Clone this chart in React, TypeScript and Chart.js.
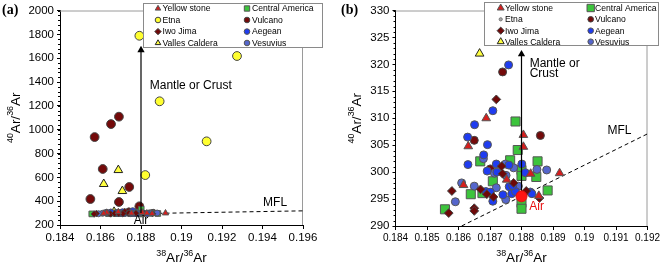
import React, { useEffect, useRef } from 'react';
import { Chart, registerables } from 'chart.js';
import { drawPoint } from 'chart.js/helpers';

Chart.register(...registerables);

const FONT = "'Liberation Sans', Arial, Helvetica, sans-serif";
const SERIF = "'Liberation Serif', 'Times New Roman', serif";

// ---------- data (38Ar/36Ar = x, 40Ar/36Ar = y) ----------
const yellowstoneX = [0.18688, 0.18631, 0.18806, 0.18806, 0.18616, 0.18753, 0.18829, 0.18921, 0.18855];
const yellowstoneY = [310.0, 304.8, 306.9, 304.7, 297.6, 298.6, 299.7, 299.8, 295.6];

const centralAmericaX = [0.18781, 0.18788, 0.18669, 0.18764, 0.18851, 0.188, 0.188, 0.18847, 0.18883, 0.18557, 0.18639, 0.18676, 0.18709, 0.188, 0.188, 0.18801];
const centralAmericaY = [309.4, 304.1, 302.0, 302.2, 302.0, 300.4, 299.3, 299.1, 296.6, 293.1, 295.9, 296.1, 298.3, 294.3, 293.2, 332];

const etnaX = [0.18792, 0.19274, 0.18892, 0.19124, 0.18821];
const etnaY = [1788, 1618, 1238, 902, 619];

const vulcanoX = [0.18691, 0.18652, 0.18571, 0.18611, 0.18742, 0.1855, 0.18691, 0.18792, 0.1874, 0.1865, 0.1886, 0.18701];
const vulcanoY = [1109, 1047, 938, 670, 519, 418, 393, 357, 318.6, 305.9, 306.8, 300.6];

const iwoJimaX = [0.1872, 0.18737, 0.1874, 0.18579, 0.18569, 0.1865, 0.1865, 0.1867, 0.1869, 0.18711, 0.18775, 0.18815, 0.18857];
const iwoJimaY = [313.5, 301.1, 299.7, 296.5, 292.4, 293.3, 292.8, 296.8, 295.9, 295.4, 298.0, 296.5, 295.2];

const vallesCalderaX = [0.18667, 0.18688, 0.18616, 0.18708];
const vallesCalderaY = [322.0, 661, 544, 485];

const aegeanX = [0.18759, 0.18709, 0.18651, 0.18629, 0.18692, 0.1868, 0.1863, 0.1872, 0.18691, 0.18801, 0.18812, 0.18722, 0.1876, 0.18687, 0.18701, 0.18709, 0.18741, 0.18761, 0.18769, 0.18781, 0.18828, 0.18833, 0.18772];
const aegeanY = [319.9, 311.4, 308.8, 306.5, 305.1, 303.2, 301.4, 301.5, 300.2, 301.5, 299.9, 300.0, 301.3, 296.4, 296.3, 294.6, 295.8, 297.3, 296.0, 296.4, 296.3, 296.0, 297.5];

const vesuviusX = [0.18679, 0.18749, 0.18775, 0.1888, 0.18849, 0.18751, 0.18714, 0.1861, 0.1859, 0.1865, 0.1872, 0.1875, 0.1879];
const vesuviusY = [302.5, 301.5, 300.8, 300.4, 300.5, 299.4, 299.8, 298.0, 294.5, 297.4, 297.1, 294.9, 297.4];

const airX = [0.188];
const airY = [295.5];

// mass fractionation line and "mantle or crust" arrows
const mflX = [0.1861, 0.196];
const mflY = [290, 318.7];
const arrowX = [0.188, 0.188];
const arrowAY = [300, 1668];
const arrowBY = [295.5, 321.9];

// axes
const xTicksA = [0.184, 0.196, 0.002];
const yTicksA = [200, 2000, 200];
const xTicksB = [0.184, 0.192, 0.001];
const yTicksB = [290, 330, 5];

type Series = {
  label: string; xs: number[]; ys: number[]; style: string; fill: string; border: string;
  rA: number; rAbig: number; rB: number; legA: number; legB: number; legFillB?: string;
};

const series: Series[] = [
  { label: 'Yellow stone', xs: yellowstoneX, ys: yellowstoneY, style: 'triangle', fill: '#d41e1e', border: '#555', rA: 3.6, rAbig: 5, rB: 5, legA: 3.2, legB: 4 },
  { label: 'Etna', xs: etnaX, ys: etnaY, style: 'circle', fill: '#ffff30', border: '#444', rA: 3, rAbig: 4.4, rB: 4.2, legA: 2.8, legB: 1.6, legFillB: '#aaa' },
  { label: 'Iwo Jima', xs: iwoJimaX, ys: iwoJimaY, style: 'rectRot', fill: '#6e0808', border: '#444', rA: 3.2, rAbig: 4.5, rB: 4.4, legA: 3.2, legB: 3.6 },
  { label: 'Valles Caldera', xs: vallesCalderaX, ys: vallesCalderaY, style: 'triangle', fill: '#ffff40', border: '#222', rA: 3.6, rAbig: 5, rB: 5, legA: 3.2, legB: 4 },
  { label: 'Central America', xs: centralAmericaX, ys: centralAmericaY, style: 'rect', fill: '#3cc43c', border: '#555', rA: 4, rAbig: 5, rB: 6.4, legA: 3.8, legB: 5.2 },
  { label: 'Vulcano', xs: vulcanoX, ys: vulcanoY, style: 'circle', fill: '#740a0a', border: '#444', rA: 3, rAbig: 4.4, rB: 4, legA: 2.8, legB: 2.8 },
  { label: 'Aegean', xs: aegeanX, ys: aegeanY, style: 'circle', fill: '#1f3cf0', border: '#555', rA: 3, rAbig: 4.4, rB: 4, legA: 2.8, legB: 2.8 },
  { label: 'Vesuvius', xs: vesuviusX, ys: vesuviusY, style: 'circle', fill: '#5566cc', border: '#555', rA: 3, rAbig: 4.4, rB: 4, legA: 2.8, legB: 2.8 },
];

const pts = (xs: number[], ys: number[]) => xs.map((x, i) => ({ x, y: ys[i] }));

function drawSup(ctx: CanvasRenderingContext2D, x: number, y: number, parts: [string, boolean][], size: number, rotate: boolean) {
  ctx.save();
  ctx.translate(x, y);
  if (rotate) ctx.rotate(-Math.PI / 2);
  const main = `${size}px ${FONT}`;
  const sup = `${size * 0.66}px ${FONT}`;
  let total = 0;
  for (const [t, s] of parts) { ctx.font = s ? sup : main; total += ctx.measureText(t).width; }
  let cx = -total / 2;
  ctx.fillStyle = '#000';
  ctx.textBaseline = 'alphabetic';
  ctx.textAlign = 'left';
  for (const [t, s] of parts) {
    ctx.font = s ? sup : main;
    ctx.fillText(t, cx, s ? -size * 0.45 : 0);
    cx += ctx.measureText(t).width;
  }
  ctx.restore();
}

type PanelCfg = {
  id: 'a' | 'b';
  width: number;
  xr: number[]; yr: number[];
  yWidth: number; xHeight: number; padRight: number; padTop: number;
  xFont: number; yFont: number; minorY: number;
  legend: { x0: number; y0: number; x1: number; y1: number; mL: number; tL: number; mR: number; tR: number; rows: number[] };
  yTitleX: number; xTitleY: number; letterX: number;
  arrowY: number[];
  texts: (chart: any, ctx: CanvasRenderingContext2D) => void;
};

function makeChart(canvas: HTMLCanvasElement, cfg: PanelCfg) {
  const isA = cfg.id === 'a';
  const datasets: any[] = [];
  datasets.push({
    label: 'MFL', data: pts(mflX, mflY), showLine: true, borderColor: '#000', borderWidth: 1,
    borderDash: [4, 3], pointRadius: 0, fill: false, order: 20,
  });
  datasets.push({
    label: 'arrow', data: pts(arrowX, cfg.arrowY), showLine: true, borderColor: '#000', borderWidth: 1.2,
    pointRadius: [0, 4.2], pointStyle: 'triangle', pointBackgroundColor: '#000', pointBorderColor: '#000',
    pointBorderWidth: 0, fill: false, order: 1,
  });
  const plotOrder = ['Etna', 'Valles Caldera', 'Vulcano', 'Central America', 'Vesuvius', 'Aegean', 'Iwo Jima', 'Yellow stone'];
  plotOrder.forEach((name, k) => {
    const s = series.find((q) => q.label === name)!;
    datasets.push({
      label: s.label, data: pts(s.xs, s.ys), showLine: false,
      pointStyle: s.style, backgroundColor: s.fill, borderColor: s.border, borderWidth: 1,
      pointRadius: isA ? (c: any) => (c.raw && c.raw.y > 340 ? s.rAbig : s.rA) : s.rB,
      order: 10 - k * 0.1,
    });
  });
  if (!isA) {
    datasets.push({
      label: 'Air', data: pts(airX, airY), showLine: false, pointStyle: 'circle',
      backgroundColor: '#ff1414', borderColor: '#e01010', borderWidth: 1, pointRadius: 5.5, order: 0,
    });
  }

  const fmtX = (v: any) => String(+(+v).toFixed(3));
  const fmtY = (v: any) => String(Math.round(+v));
  const framePlugin = {
    id: 'frame' + cfg.id,
    beforeDatasetsDraw(chart: any) {
      const { ctx, chartArea: a } = chart;
      ctx.save();
      ctx.strokeStyle = '#9a9a9a';
      ctx.lineWidth = 1;
      ctx.beginPath();
      ctx.moveTo(a.left, a.top + 0.5);
      ctx.lineTo(a.right - 0.5, a.top + 0.5);
      ctx.lineTo(a.right - 0.5, a.bottom);
      ctx.stroke();
      // minor ticks on y axis
      const ys = chart.scales.y;
      ctx.strokeStyle = '#000';
      ctx.beginPath();
      for (let v = cfg.yr[0]; v <= cfg.yr[1] + 1e-9; v += cfg.minorY) {
        const p = Math.round(ys.getPixelForValue(v)) + 0.5;
        ctx.moveTo(a.left - 2, p);
        ctx.lineTo(a.left, p);
      }
      ctx.stroke();
      ctx.restore();
    },
    afterDraw(chart: any) {
      const { ctx, chartArea: a } = chart;
      // axis titles
      const cy = (a.top + a.bottom) / 2;
      const cx = (a.left + a.right) / 2;
      drawSup(ctx, cfg.yTitleX, cy, [['40', true], ['Ar/', false], ['36', true], ['Ar', false]], 13.5, true);
      drawSup(ctx, cx, cfg.xTitleY, [['38', true], ['Ar/', false], ['36', true], ['Ar', false]], 13.5, false);
      ctx.save();
      ctx.fillStyle = '#000';
      ctx.font = `bold 14px ${SERIF}`;
      ctx.textBaseline = 'alphabetic';
      ctx.textAlign = 'left';
      ctx.fillText(`(${cfg.id})`, cfg.letterX, 14);
      ctx.restore();
      cfg.texts(chart, ctx);
      // legend
      const L = cfg.legend;
      ctx.save();
      ctx.fillStyle = '#fff';
      ctx.fillRect(L.x0, L.y0, L.x1 - L.x0, L.y1 - L.y0);
      ctx.strokeStyle = '#8a8a8a';
      ctx.lineWidth = 1;
      ctx.strokeRect(L.x0 + 0.5, L.y0 + 0.5, L.x1 - L.x0 - 1, L.y1 - L.y0 - 1);
      series.forEach((s, i) => {
        const col = i < 4 ? 0 : 1;
        const row = i % 4;
        const mx = col === 0 ? L.mL : L.mR;
        const tx = col === 0 ? L.tL : L.tR;
        const y = L.rows[row];
        ctx.fillStyle = !isA && s.legFillB ? s.legFillB : s.fill;
        ctx.strokeStyle = !isA && s.legFillB ? '#777' : s.border;
        ctx.lineWidth = 1;
        drawPoint(ctx, { pointStyle: s.style as any, rotation: 0, radius: isA ? s.legA : s.legB, borderWidth: 1 } as any, mx, y);
        ctx.fillStyle = '#000';
        ctx.font = `8.6px ${FONT}`;
        ctx.textBaseline = 'middle';
        ctx.textAlign = 'left';
        ctx.fillText(s.label, tx, y + 0.5);
      });
      ctx.restore();
    },
  };

  return new Chart(canvas, {
    type: 'scatter',
    data: { datasets },
    options: {
      animation: false,
      responsive: false,
      devicePixelRatio: 1,
      layout: { padding: { left: 0, right: cfg.padRight, top: cfg.padTop, bottom: 0 } },
      plugins: { legend: { display: false }, tooltip: { enabled: false } },
      scales: {
        x: {
          type: 'linear', min: cfg.xr[0], max: cfg.xr[1],
          ticks: { stepSize: cfg.xr[2], callback: fmtX, font: { family: FONT, size: cfg.xFont }, color: '#000', padding: 2, maxRotation: 0, autoSkip: false },
          grid: { drawOnChartArea: false, drawTicks: true, tickLength: 4, color: '#000' },
          border: { display: true, color: '#000', width: 1 },
          afterFit: (s: any) => { s.height = cfg.xHeight; },
        },
        y: {
          type: 'linear', min: cfg.yr[0], max: cfg.yr[1],
          ticks: { stepSize: cfg.yr[2], callback: fmtY, font: { family: FONT, size: cfg.yFont }, color: '#000', padding: 3 },
          grid: { drawOnChartArea: false, drawTicks: true, tickLength: 3, color: '#000' },
          border: { display: true, color: '#000', width: 1 },
          afterFit: (s: any) => { s.width = cfg.yWidth; },
        },
      },
    } as any,
    plugins: [framePlugin],
  });
}

function txt(ctx: CanvasRenderingContext2D, s: string, x: number, y: number, size: number, color = '#000', align: CanvasTextAlign = 'left') {
  ctx.save();
  ctx.fillStyle = color;
  ctx.font = `${size}px ${FONT}`;
  ctx.textAlign = align;
  ctx.textBaseline = 'middle';
  ctx.fillText(s, x, y);
  ctx.restore();
}

const cfgA: PanelCfg = {
  id: 'a', width: 334, xr: xTicksA, yr: yTicksA,
  yWidth: 60, xHeight: 41, padRight: 31, padTop: 10.5,
  xFont: 11.5, yFont: 11.5, minorY: 40,
  legend: { x0: 143, y0: 3, x1: 323, y1: 48, mL: 158, tL: 162.5, mR: 247, tR: 252, rows: [8.5, 20, 31.6, 43] },
  yTitleX: 19.5, xTitleY: 262, letterX: 2,
  arrowY: arrowAY,
  texts(chart, ctx) {
    const X = chart.scales.x, Y = chart.scales.y;
    txt(ctx, 'Mantle or Crust', X.getPixelForValue(0.18843), Y.getPixelForValue(1370), 12);
    txt(ctx, 'MFL', X.getPixelForValue(0.19462), Y.getPixelForValue(390), 12, '#000', 'center');
    txt(ctx, 'Air', X.getPixelForValue(0.188), Y.bottom - 4, 12, '#000', 'center');
  },
};

const cfgB: PanelCfg = {
  id: 'b', width: 333, xr: xTicksB, yr: yTicksB,
  yWidth: 61.5, xHeight: 40, padRight: 19.5, padTop: 10.5,
  xFont: 10, yFont: 11.5, minorY: 1,
  legend: { x0: 150, y0: 2, x1: 325, y1: 46, mL: 166.7, tL: 171, mR: 256.7, tR: 261, rows: [8, 19.3, 30.7, 41.7] },
  yTitleX: 26.5, xTitleY: 262, letterX: 7,
  arrowY: arrowBY,
  texts(chart, ctx) {
    const X = chart.scales.x, Y = chart.scales.y;
    txt(ctx, 'Mantle or', X.getPixelForValue(0.18826), Y.getPixelForValue(320.2), 12);
    txt(ctx, 'Crust', X.getPixelForValue(0.18826), Y.getPixelForValue(318.3), 12);
    txt(ctx, 'MFL', X.getPixelForValue(0.19111), Y.getPixelForValue(307.6), 12, '#000', 'center');
    txt(ctx, 'Air', X.getPixelForValue(0.18848), Y.getPixelForValue(293.5), 12, '#e81010', 'center');
  },
};

function Panel({ cfg }: { cfg: PanelCfg }) {
  const ref = useRef<HTMLCanvasElement>(null);
  useEffect(() => {
    if (!ref.current) return;
    const c = makeChart(ref.current, cfg);
    return () => c.destroy();
  }, [cfg]);
  return <canvas ref={ref} width={cfg.width} height={266} style={{ display: 'block', width: cfg.width, height: 266 }} />;
}

export default function App() {
  useEffect(() => { document.body.style.margin = '0'; }, []);
  return (
    <div style={{ position: 'fixed', left: 0, top: 0, width: 667, height: 266, display: 'flex', background: '#fff' }}>
      <Panel cfg={cfgA} />
      <Panel cfg={cfgB} />
    </div>
  );
}
